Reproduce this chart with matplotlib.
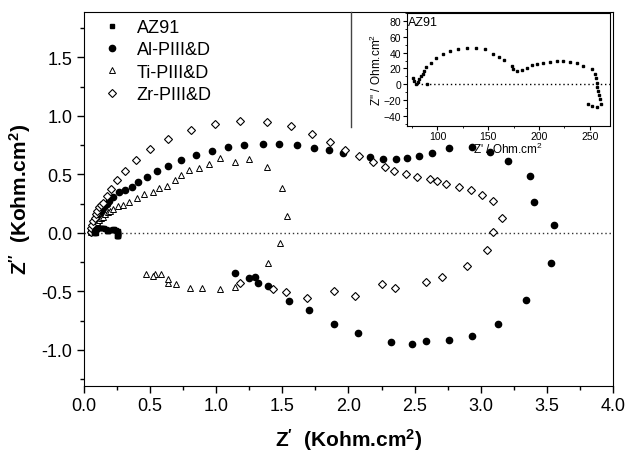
import numpy as np
import matplotlib
matplotlib.use("Agg")
import matplotlib.pyplot as plt
from matplotlib.lines import Line2D
from matplotlib.ticker import MultipleLocator, FormatStrFormatter

plt.rcParams['font.family'] = 'Liberation Sans'
plt.rcParams['mathtext.fontset'] = 'custom'
plt.rcParams['mathtext.rm'] = 'Liberation Sans'
plt.rcParams['mathtext.bf'] = 'Liberation Sans:bold'
plt.rcParams['mathtext.it'] = 'Liberation Sans:italic'
plt.rcParams['mathtext.default'] = 'regular'

az_x = [76.2, 77.2, 78.5, 80.5, 82.2, 83.8, 85.5, 86.7, 88.7, 90.0, 93.3, 98.6, 105.2,
        112.4, 120.6, 129.5, 138.0, 146.8, 155.0, 160.9, 165.6, 173.8, 174.5, 178.0,
        183.0, 187.9, 192.8, 197.7, 204.3, 210.9, 217.5, 224.0, 230.6, 237.2, 243.7,
        252.0, 255.2, 256.2, 256.9, 257.5, 258.5, 259.5, 260.2, 260.8, 257.5, 252.0, 248.6]
az_y = [7.6, 4.2, 0.9, 3.4, 6.7, 10.1, 13.5, 16.8, 21.9, 1.0, 27.4, 33.7, 37.9,
        42.1, 45.1, 46.4, 46.4, 44.2, 38.8, 34.5, 30.3, 23.1, 19.8, 16.8,
        18.5, 21.0, 24.0, 26.2, 27.4, 28.7, 29.5, 29.5, 28.7, 26.5, 23.1,
        19.0, 12.6, 7.6, 2.1, -3.4, -8.5, -13.5, -19.0, -24.4, -28.2, -27.4, -25.3]

# Al-PIII&D (Kohm.cm2)
al_x = [0.05, 0.06, 0.07, 0.08, 0.09, 0.10, 0.116, 0.134, 0.151, 0.171, 0.192, 0.222,
        0.262, 0.310, 0.360, 0.411, 0.479, 0.554, 0.638, 0.731, 0.844, 0.965, 1.091,
        1.209, 1.350, 1.474, 1.612, 1.741, 1.854, 1.960, 2.162, 2.262, 2.363, 2.439,
        2.532, 2.630, 2.761, 2.933, 3.074, 3.205, 3.371, 3.404, 3.555, 3.535, 3.346,
        3.132, 2.933, 2.761, 2.590, 2.484, 2.318, 2.071, 1.890, 1.698, 1.552, 1.393,
        1.313, 1.293, 1.250, 1.139]
al_y = [0.01, 0.03, 0.05, 0.065, 0.08, 0.095, 0.120, 0.177, 0.219, 0.248, 0.276, 0.311,
        0.347, 0.368, 0.390, 0.433, 0.476, 0.530, 0.575, 0.624, 0.667, 0.704, 0.732,
        0.752, 0.761, 0.761, 0.749, 0.729, 0.709, 0.684, 0.647, 0.632, 0.632, 0.638,
        0.661, 0.681, 0.724, 0.732, 0.690, 0.613, 0.490, 0.262, 0.071, -0.256, -0.570,
        -0.781, -0.883, -0.917, -0.920, -0.949, -0.929, -0.855, -0.775, -0.661, -0.584,
        -0.453, -0.427, -0.376, -0.385, -0.339]

# Ti-PIII&D
ti_x = [0.05, 0.06, 0.07, 0.08, 0.09, 0.10, 0.115, 0.13, 0.145, 0.159, 0.178, 0.197,
        0.222, 0.260, 0.297, 0.340, 0.398, 0.454, 0.524, 0.570, 0.625, 0.688, 0.733,
        0.796, 0.872, 0.947, 1.030, 1.139, 1.250, 1.383, 1.499, 1.534, 1.481, 1.393,
        1.141, 1.030, 0.892, 0.804, 0.695, 0.638, 0.638, 0.580, 0.537, 0.524, 0.469]
ti_y = [0.01, 0.03, 0.05, 0.065, 0.08, 0.095, 0.11, 0.125, 0.14, 0.162, 0.175, 0.191,
        0.205, 0.228, 0.239, 0.262, 0.296, 0.333, 0.348, 0.382, 0.404, 0.453, 0.496,
        0.538, 0.553, 0.590, 0.638, 0.604, 0.630, 0.561, 0.382, 0.148, -0.088, -0.259,
        -0.459, -0.479, -0.470, -0.470, -0.436, -0.430, -0.393, -0.350, -0.350, -0.370, -0.350]

# Zr-PIII&D
zr_x = [0.05, 0.055, 0.06, 0.07, 0.08, 0.09, 0.10, 0.115, 0.13, 0.146, 0.171, 0.204,
        0.247, 0.310, 0.393, 0.499, 0.632, 0.806, 0.990, 1.182, 1.383, 1.567, 1.723,
        1.864, 1.973, 2.081, 2.182, 2.275, 2.348, 2.434, 2.519, 2.615, 2.673, 2.734,
        2.837, 2.930, 3.010, 3.094, 3.162, 3.094, 3.048, 2.893, 2.704, 2.590, 2.351,
        2.250, 2.053, 1.892, 1.683, 1.529, 1.431, 1.182]
zr_y = [0.01, 0.04, 0.07, 0.10, 0.13, 0.16, 0.19, 0.22, 0.24, 0.254, 0.314, 0.376,
        0.453, 0.533, 0.624, 0.718, 0.803, 0.880, 0.932, 0.955, 0.949, 0.915, 0.843,
        0.775, 0.712, 0.661, 0.610, 0.564, 0.530, 0.501, 0.481, 0.462, 0.444, 0.422,
        0.396, 0.368, 0.325, 0.274, 0.128, 0.006, -0.145, -0.279, -0.379, -0.422, -0.467,
        -0.436, -0.536, -0.493, -0.558, -0.501, -0.479, -0.430]

fig = plt.figure(figsize=(6.29, 4.52), dpi=100)
ax = fig.add_axes([0.1335, 0.1445, 0.841, 0.8274])

ax.axhline(0, color='#333333', lw=1, ls=(0, (1, 2)), zorder=1)
ax.plot(np.array(az_x) / 1000, np.array(az_y) / 1000, 's', color='black', ms=3.2,
        label='AZ91', zorder=3)
ax.plot(al_x, al_y, 'o', color='black', ms=4.5, label='Al-PIII&D')
ax.plot(ti_x, ti_y, '^', mfc='white', mec='black', mew=0.7, ms=5, label='Ti-PIII&D')
ax.plot(zr_x, zr_y, 'D', mfc='white', mec='black', mew=0.8, ms=4.3, label='Zr-PIII&D')

ax.set_xlim(0, 4.0)
ax.set_ylim(-1.305, 1.89)
ax.xaxis.set_major_locator(MultipleLocator(0.5))
ax.xaxis.set_minor_locator(MultipleLocator(0.25))
ax.yaxis.set_major_locator(MultipleLocator(0.5))
ax.yaxis.set_minor_locator(MultipleLocator(0.25))
ax.xaxis.set_major_formatter(FormatStrFormatter('%.1f'))
ax.yaxis.set_major_formatter(FormatStrFormatter('%.1f'))
ax.tick_params(which='both', direction='out', labelsize=13, width=1)
ax.tick_params(which='major', length=5)
ax.tick_params(which='minor', length=3)
ax.set_xlabel(r"Z$^{\prime}$  (Kohm.cm$^{\mathbf{2}}$)", fontsize=15, fontweight='bold', labelpad=8)
ax.set_ylabel(r"Z$^{\prime\prime}$  (Kohm.cm$^{\mathbf{2}}$)", fontsize=15, fontweight='bold', labelpad=6)

ax.legend(loc='upper left', bbox_to_anchor=(0.018, 1.0), frameon=False, fontsize=13,
          handlelength=1.2, handletextpad=0.8, labelspacing=0.3, borderaxespad=0)

# inset AZ91
fig.add_artist(Line2D([351 / 629, 351 / 629], [1 - 13 / 452, 1 - 128 / 452],
                      color='#444444', lw=1))
axi = fig.add_axes([0.647, 0.7201, 0.3227, 0.2489])
axi.hlines(0, 80, 270, color='black', lw=1, ls=(0, (1, 2)))
axi.plot(az_x, az_y, 's', color='black', ms=1.8)
axi.set_xlim(70, 270)
axi.set_ylim(-52, 90)
axi.xaxis.set_major_locator(MultipleLocator(50))
axi.xaxis.set_minor_locator(MultipleLocator(25))
axi.yaxis.set_major_locator(MultipleLocator(20))
axi.yaxis.set_minor_locator(MultipleLocator(10))
axi.tick_params(which='both', direction='out', labelsize=7.5, pad=1)
axi.tick_params(which='major', length=3)
axi.tick_params(which='minor', length=1.5)
axi.set_xlabel(r"Z' / Ohm.cm$^2$", fontsize=8.5, labelpad=0)
axi.set_ylabel(r"Z'' / Ohm.cm$^2$", fontsize=8.5, labelpad=0)
axi.text(0.005, 0.97, 'AZ91', transform=axi.transAxes, fontsize=9, va='top', ha='left')

fig.savefig('out.png', dpi=100)
